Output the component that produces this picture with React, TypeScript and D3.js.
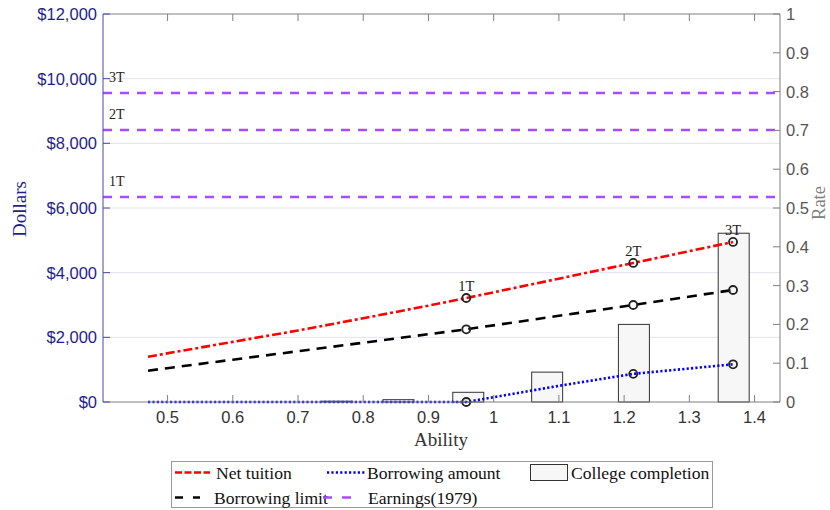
import React from 'react';
import * as d3 from 'd3';

// ability grid of the model lines
const ability = [0.47, 0.6, 0.7, 0.8, 0.9, 0.958, 1.1, 1.214, 1.367];
const netTuition = [1400, 1860, 2212, 2590, 2980, 3216, 3815, 4300, 4950];
const borrowingLimit = [968, 1309, 1571, 1833, 2096, 2248, 2665, 3000, 3464];
const borrowingAmount = [0, 0, 0, 0, 0, 0, 500, 870, 1166];

// tiers marked with circles
const tierLabels = ['1T', '2T', '3T'];
const tierIndex = [5, 7, 8];
const earnings1979 = [6340, 8410, 9560];

// college completion bars (right axis)
const barAbility = [0.47, 0.76, 0.854, 0.961, 1.082, 1.215, 1.368];
const completion = [0, 0.002, 0.006, 0.025, 0.077, 0.2, 0.435];
const barWidth = 0.0475;

const xTicks = [0.5, 0.6, 0.7, 0.8, 0.9, 1, 1.1, 1.2, 1.3, 1.4];
const dollarTicks = [0, 2000, 4000, 6000, 8000, 10000, 12000];
const rateTicks = [0, 0.1, 0.2, 0.3, 0.4, 0.5, 0.6, 0.7, 0.8, 0.9, 1];

const W = 830;
const H = 510;
const left = 103, right = 780, top = 14, bottom = 402;

const SERIF = '"Liberation Serif", "Times New Roman", serif';
const SANS = '"Liberation Sans", Arial, sans-serif';
const NAVY = '#1e1e8c';
const GREY = '#555';
const PURPLE = '#a64dff';

const x = d3.scaleLinear().domain([0.401, 1.439]).range([left, right]);
const yL = d3.scaleLinear().domain([0, 12000]).range([bottom, top]);
const yR = d3.scaleLinear().domain([0, 1]).range([bottom, top]);

const line = (vals: number[]) =>
  d3.line<number>().x((_, i) => x(ability[i])).y((d) => yL(d))(vals) || '';

const fmtDollar = (v: number) => '$' + d3.format(',')(v);

export default function App() {
  const tick = 7;
  return (
    <svg width={W} height={H} style={{ position: 'absolute', left: 0, top: 0, background: '#fff' }}>
      {/* grid */}
      {dollarTicks.slice(1, -1).map((t) => (
        <line key={'g' + t} x1={left} x2={right} y1={yL(t)} y2={yL(t)} stroke="#e3e3f1" strokeWidth={1} />
      ))}

      {/* bars */}
      {barAbility.map((a, i) => (
        <rect
          key={'b' + i}
          x={x(a - barWidth / 2)}
          y={yR(completion[i])}
          width={x(a + barWidth / 2) - x(a - barWidth / 2)}
          height={bottom - yR(completion[i])}
          fill="#f7f7f7"
          stroke="#333"
          strokeWidth={1}
        />
      ))}

      {/* earnings lines */}
      {earnings1979.map((e, i) => (
        <g key={'e' + i}>
          <line x1={left} x2={right} y1={yL(e)} y2={yL(e)} stroke={PURPLE} strokeWidth={2.5} strokeDasharray="9,8" />
          <text x={109} y={yL(e) - 11} fontFamily={SERIF} fontSize={14} fill="#222">
            {tierLabels[i]}
          </text>
        </g>
      ))}

      {/* model lines */}
      <path d={line(netTuition)} fill="none" stroke="#ff0000" strokeWidth={2.6} strokeDasharray="9,3,3,3" />
      <path d={line(borrowingLimit)} fill="none" stroke="#000" strokeWidth={2.6} strokeDasharray="10,7" />
      <path d={line(borrowingAmount)} fill="none" stroke="#0000ff" strokeWidth={2.6} strokeDasharray="2.2,2.2" />

      {/* tier markers */}
      {tierIndex.map((idx, i) => (
        <g key={'m' + i}>
          {[netTuition, borrowingLimit, borrowingAmount].map((s, j) => (
            <circle key={j} cx={x(ability[idx])} cy={yL(s[idx])} r={4} fill="none" stroke="#222" strokeWidth={1.8} />
          ))}
          <text x={x(ability[idx])} y={yL(netTuition[idx]) - 7} textAnchor="middle" fontFamily={SERIF} fontSize={14.5} fill="#222">
            {tierLabels[i]}
          </text>
        </g>
      ))}

      {/* frame */}
      <line x1={left} x2={right} y1={top} y2={top} stroke="#808080" strokeWidth={1} />
      <line x1={left} x2={right} y1={bottom} y2={bottom} stroke="#808080" strokeWidth={1} />
      <line x1={left} x2={left} y1={top} y2={bottom} stroke="#4848a8" strokeWidth={1} />
      <line x1={right} x2={right} y1={top} y2={bottom} stroke="#808080" strokeWidth={1} />

      {/* x ticks */}
      {xTicks.map((t) => (
        <g key={'x' + t}>
          <line x1={x(t)} x2={x(t)} y1={bottom} y2={bottom - tick} stroke="#808080" />
          <line x1={x(t)} x2={x(t)} y1={top} y2={top + tick} stroke="#808080" />
          <text x={x(t)} y={417} textAnchor="middle" dominantBaseline="central" fontFamily={SANS} fontSize={16.5} fill="#333">
            {String(t)}
          </text>
        </g>
      ))}

      {/* left axis */}
      {dollarTicks.map((t) => (
        <g key={'l' + t}>
          <line x1={left} x2={left + tick} y1={yL(t)} y2={yL(t)} stroke="#4848a8" />
          <text x={97} y={yL(t)} textAnchor="end" dominantBaseline="central" fontFamily={SANS} fontSize={16.5} fill={NAVY}>
            {fmtDollar(t)}
          </text>
        </g>
      ))}

      {/* right axis */}
      {rateTicks.map((t) => (
        <g key={'r' + t}>
          <line x1={right} x2={right - tick} y1={yR(t)} y2={yR(t)} stroke="#808080" />
          <text x={786} y={yR(t)} dominantBaseline="central" fontFamily={SANS} fontSize={16.5} fill={GREY}>
            {String(t)}
          </text>
        </g>
      ))}

      {/* axis titles */}
      <text transform={`translate(26,209) rotate(-90)`} textAnchor="middle" fontFamily={SERIF} fontSize={19} fill={NAVY}>
        Dollars
      </text>
      <text transform={`translate(825,203) rotate(-90)`} textAnchor="middle" fontFamily={SERIF} fontSize={18.5} fill="#808080">
        Rate
      </text>
      <text x={441} y={446} textAnchor="middle" fontFamily={SERIF} fontSize={19} fill="#333">
        Ability
      </text>

      {/* legend */}
      <g fontFamily={SERIF} fontSize={17.6} fill="#111">
        <rect x={171.5} y={461.5} width={541} height={46} fill="#fff" stroke="#9a9a9a" strokeWidth={1} />
        <line x1={175} x2={210} y1={472.5} y2={472.5} stroke="#ff0000" strokeWidth={2.6} strokeDasharray="7,2.5" />
        <text x={216} y={472.5} dominantBaseline="central">Net tuition</text>
        <line x1={327} x2={365} y1={472.5} y2={472.5} stroke="#0000ff" strokeWidth={2.6} strokeDasharray="2.2,2.2" />
        <text x={367} y={472.5} dominantBaseline="central">Borrowing amount</text>
        <rect x={530.5} y={464.5} width={37} height={16} fill="#f7f7f7" stroke="#333" strokeWidth={1} />
        <text x={571} y={472.5} dominantBaseline="central">College completion</text>
        <line x1={175} x2={200} y1={497.5} y2={497.5} stroke="#000" strokeWidth={2.6} strokeDasharray="8,10" />
        <text x={214} y={497.5} dominantBaseline="central">Borrowing limit</text>
        <line x1={323} x2={353} y1={497.5} y2={497.5} stroke={PURPLE} strokeWidth={2.6} strokeDasharray="9,10" />
        <text x={368} y={497.5} dominantBaseline="central">Earnings(1979)</text>
      </g>
    </svg>
  );
}
